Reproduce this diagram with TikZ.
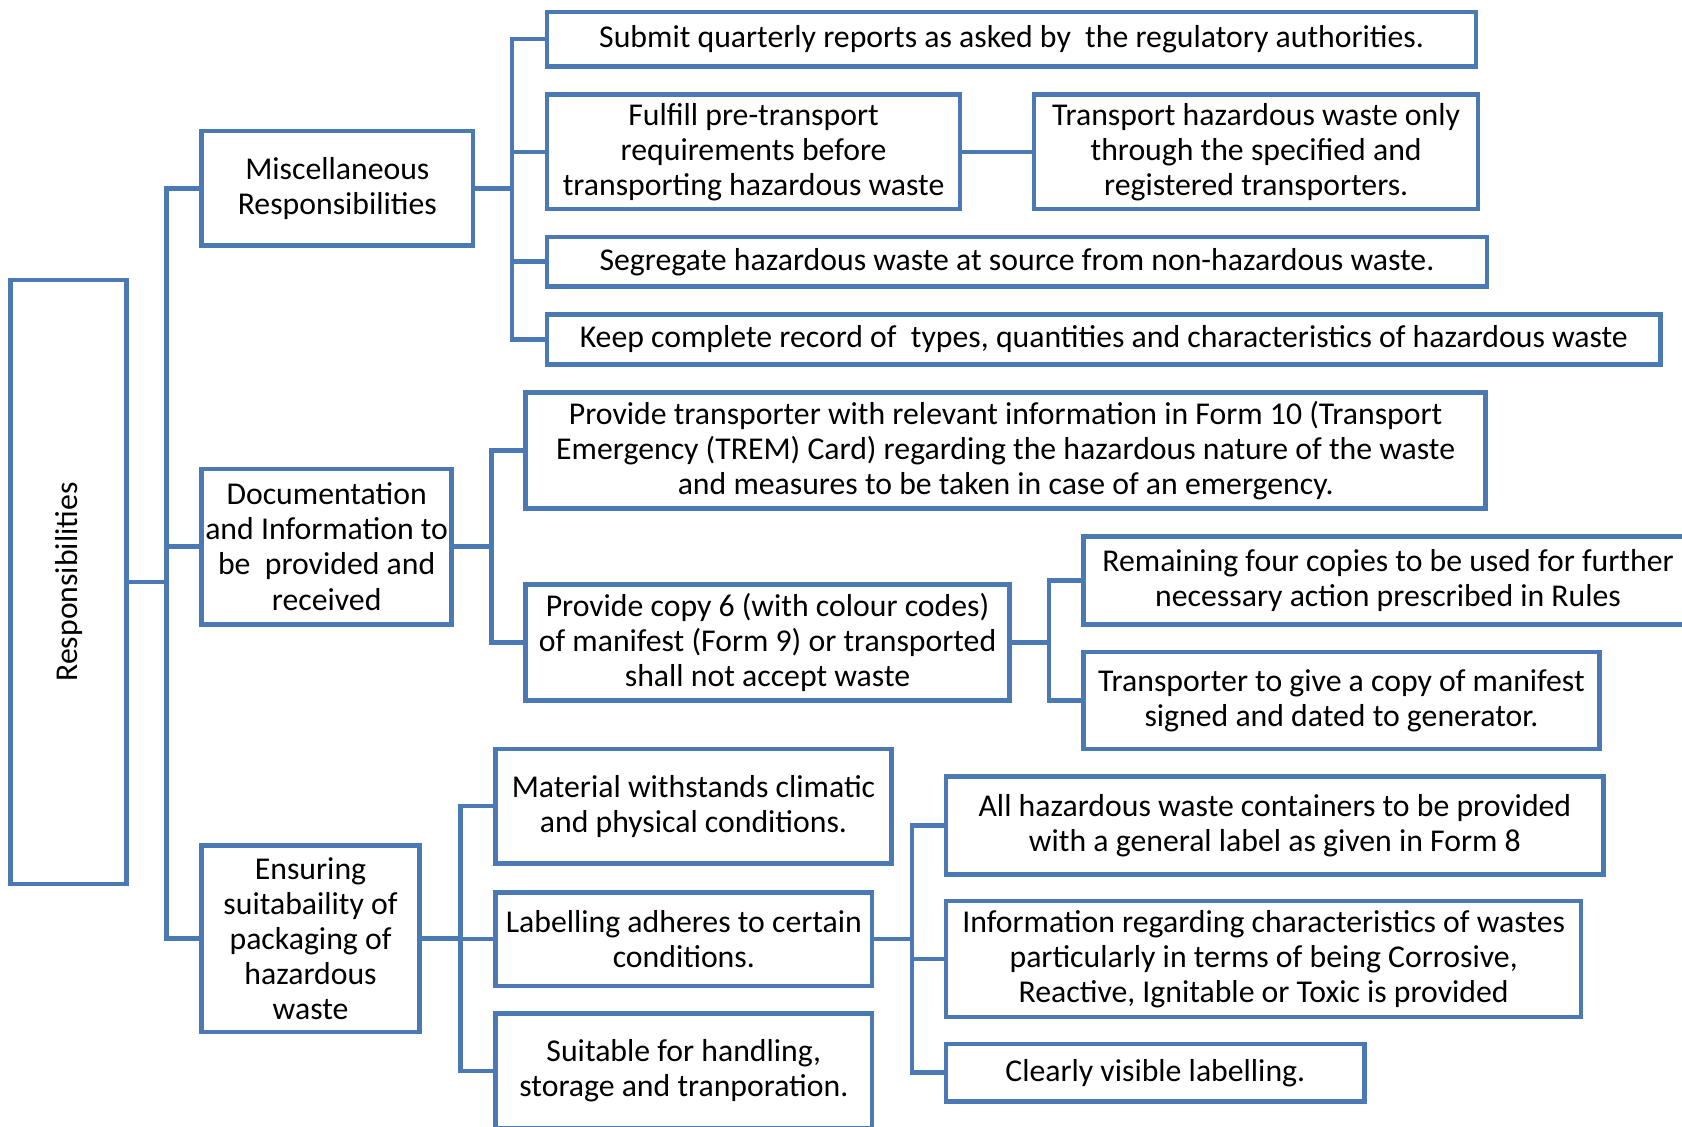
\documentclass[tikz,border=0pt]{standalone}
\usepackage{fontspec}
\setmainfont{Carlito}
\definecolor{boxblue}{HTML}{4A79B3}
\tikzset{
  box/.style={draw=boxblue, line width=4.2pt, fill=white, align=center, inner sep=0pt},
  link/.style={draw=boxblue, line width=4.2pt},
}
\begin{document}
\begin{tikzpicture}[x=1pt,y=-1pt, font=\fontsize{29.6}{32.7}\selectfont]
\useasboundingbox (0,0) rectangle (1568,1050);
% root and the three groups
\draw (64,542.5) node[box,rotate=90,minimum width=563pt,minimum height=108pt] (root) {Responsibilities};
\draw (314.5,175.5) node[box,minimum width=253pt,minimum height=107pt] (misc) {Miscellaneous\\Responsibilities};
\draw (304.5,509.5) node[box,minimum width=233pt,minimum height=145pt] (doc) {Documentation\\and Information to\\be\ \ provided and\\received};
\draw (289.5,875) node[box,minimum width=203pt,minimum height=174pt] (ens) {Ensuring\\suitabaility of\\packaging of\\hazardous\\waste};
% miscellaneous
\draw (943,36.5) node[box,minimum width=866pt,minimum height=51pt] (rep) {Submit quarterly reports as asked by\ \ the regulatory authorities.};
\draw (702.5,141.5) node[box,minimum width=385pt,minimum height=107pt] (pre) {Fulfill pre-transport\\requirements before\\transporting hazardous waste};
\draw (1171,141.5) node[box,minimum width=414pt,minimum height=107pt] (reg) {Transport hazardous waste only\\through the specified and\\registered transporters.};
\draw (948,244) node[box,minimum width=876pt,minimum height=46pt] (seg) {Segregate hazardous waste at source from non-hazardous waste.};
\draw (1029,316.5) node[box,minimum width=1038pt,minimum height=47pt] (rec) {Keep complete record of\ \ types, quantities and characteristics of hazardous waste};
% documentation
\draw (937.5,420) node[box,minimum width=895pt,minimum height=108pt] (trem) {Provide transporter with relevant information in Form 10 (Transport\\Emergency (TREM) Card) regarding the hazardous nature of the waste\\and measures to be taken in case of an emergency.};
\draw (715.5,599) node[box,minimum width=451pt,minimum height=108pt] (copy) {Provide copy 6 (with colour codes)\\of manifest (Form 9) or transported\\shall not accept waste};
\draw (1305,541) node[box,minimum width=590pt,minimum height=82pt] (rem) {\hspace*{-22pt}Remaining four copies to be used for further\\\hspace*{-22pt}necessary action prescribed in Rules};
\draw (1250.5,653) node[box,minimum width=481pt,minimum height=90pt] (sign) {Transporter to give a copy of manifest\\signed and dated to generator.};
% packaging
\draw (646.5,751.5) node[box,minimum width=369pt,minimum height=107pt] (mat) {Material withstands climatic\\and physical conditions.};
\draw (637.5,875.5) node[box,minimum width=351pt,minimum height=87pt] (lab) {Labelling adheres to certain\\conditions.};
\draw (637.5,998.5) node[box,minimum width=351pt,minimum height=107pt] (suit) {Suitable for handling,\\storage and tranporation.};
\draw (1188.5,769.5) node[box,minimum width=613pt,minimum height=91pt] (gen) {All hazardous waste containers to be provided\\with a general label as given in Form 8};
\draw (1178,894) node[box,minimum width=592pt,minimum height=108pt] (chr) {Information regarding characteristics of wastes\\particularly in terms of being Corrosive,\\Reactive, Ignitable or Toxic is provided};
\draw (1077,1000) node[box,minimum width=390pt,minimum height=54pt] (vis) {Clearly visible labelling.};
% connectors
\draw[link] (root.south) -- ++(35,0) coordinate (rb) |- (misc.west);
\draw[link] (rb) |- (doc.west);
\draw[link] (rb) |- (ens.west);
\draw[link] (misc.east) -- ++(34,0) coordinate (mb) |- (rep.west);
\draw[link] (mb) |- (pre.west);
\draw[link] (mb) |- (seg.west);
\draw[link] (mb) |- (rec.west);
\draw[link] (pre) -- (reg);
\draw[link] (doc.east) -- ++(35,0) coordinate (db) |- (trem.west);
\draw[link] (db) |- (copy.west);
\draw[link] (copy.east) -- ++(35,0) coordinate (cb) |- (rem.west);
\draw[link] (cb) |- (sign.west);
\draw[link] (ens.east) -- ++(36,0) coordinate (eb) |- (mat.west);
\draw[link] (eb) |- (lab.west);
\draw[link] (eb) |- (suit.west);
\draw[link] (lab.east) -- ++(35,0) coordinate (lb) |- (gen.west);
\draw[link] (lb) |- (chr.west);
\draw[link] (lb) |- (vis.west);
\end{tikzpicture}
\end{document}
